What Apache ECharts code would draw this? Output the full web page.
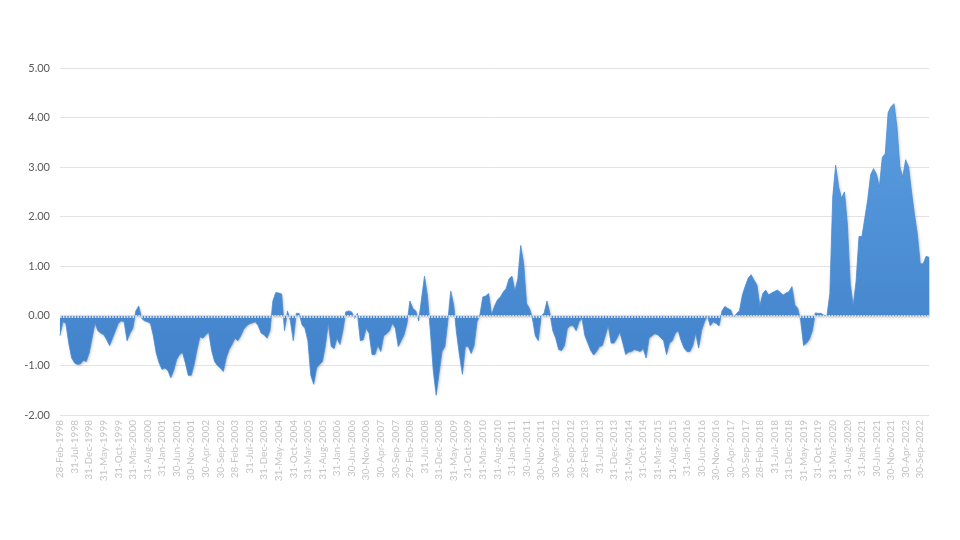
<!DOCTYPE html>
<html>
<head>
<meta charset="utf-8">
<style>
html, body { margin: 0; padding: 0; background: #fff; }
#chart { width: 960px; height: 540px; }
</style>
<script src="https://cdn.jsdelivr.net/npm/echarts@6/dist/echarts.min.js"></script>
</head>
<body>
<div id="chart"></div>
<script>
// monthly values, Feb-1998 .. Dec-2022
var values = [
  -0.40, -0.12, -0.15, -0.55, -0.85, -0.95, -0.98, -0.97, -0.90, -0.92,
  -0.75, -0.45, -0.15, -0.30, -0.35, -0.38, -0.48, -0.60, -0.45, -0.30,
  -0.15, -0.10, -0.12, -0.50, -0.35, -0.25, 0.10, 0.20, -0.05, -0.10,
  -0.12, -0.15, -0.40, -0.75, -0.95, -1.08, -1.05, -1.10, -1.25, -1.10,
  -0.88, -0.78, -0.74, -0.95, -1.20, -1.20, -0.98, -0.68, -0.42, -0.45,
  -0.38, -0.33, -0.70, -0.92, -1.00, -1.05, -1.12, -0.85, -0.68, -0.58,
  -0.45, -0.50, -0.40, -0.27, -0.20, -0.16, -0.14, -0.12, -0.20, -0.35,
  -0.38, -0.45, -0.30, 0.30, 0.47, 0.46, 0.44, -0.30, 0.10, -0.10,
  -0.50, 0.05, 0.05, -0.18, -0.25, -0.50, -1.20, -1.38, -1.05, -0.98,
  -0.92, -0.60, -0.15, -0.62, -0.66, -0.45, -0.58, -0.30, 0.08, 0.10,
  0.08, -0.05, 0.05, -0.50, -0.48, -0.25, -0.35, -0.78, -0.78, -0.60,
  -0.72, -0.40, -0.36, -0.30, -0.15, -0.25, -0.62, -0.50, -0.38, -0.15,
  0.30, 0.15, 0.10, -0.10, 0.35, 0.80, 0.40, -0.30, -1.10, -1.60,
  -1.15, -0.72, -0.62, -0.10, 0.50, 0.22, -0.35, -0.80, -1.18, -0.62,
  -0.62, -0.76, -0.60, -0.12, 0.02, 0.38, 0.40, 0.45, 0.02, 0.20,
  0.32, 0.38, 0.48, 0.55, 0.75, 0.80, 0.50, 0.75, 1.42, 1.05,
  0.25, 0.15, -0.05, -0.40, -0.50, 0.00, 0.05, 0.30, 0.05, -0.30,
  -0.45, -0.68, -0.70, -0.60, -0.25, -0.20, -0.20, -0.30, -0.12, -0.05,
  -0.40, -0.55, -0.70, -0.79, -0.72, -0.62, -0.60, -0.40, -0.20, -0.55,
  -0.55, -0.45, -0.33, -0.55, -0.78, -0.73, -0.72, -0.68, -0.70, -0.72,
  -0.66, -0.85, -0.45, -0.40, -0.36, -0.38, -0.44, -0.50, -0.78, -0.55,
  -0.50, -0.35, -0.30, -0.50, -0.65, -0.72, -0.72, -0.60, -0.35, -0.65,
  -0.30, -0.12, 0.00, -0.20, -0.12, -0.15, -0.20, 0.10, 0.19, 0.15,
  0.12, -0.04, 0.05, 0.10, 0.42, 0.60, 0.76, 0.83, 0.72, 0.62,
  0.20, 0.45, 0.52, 0.42, 0.46, 0.49, 0.52, 0.47, 0.42, 0.46,
  0.49, 0.59, 0.22, 0.15, -0.10, -0.60, -0.55, -0.47, -0.30, 0.06,
  0.05, 0.05, 0.01, 0.00, 0.45, 2.40, 3.04, 2.60, 2.37, 2.50,
  1.85, 0.65, 0.20, 0.70, 1.60, 1.60, 1.97, 2.35, 2.85, 2.97,
  2.85, 2.60, 3.20, 3.27, 4.10, 4.22, 4.28, 3.80, 3.00, 2.80,
  3.15, 3.00, 2.50, 2.05, 1.65, 1.05, 1.05, 1.20, 1.18
];

var monthNames = ['Jan','Feb','Mar','Apr','May','Jun','Jul','Aug','Sep','Oct','Nov','Dec'];
var startYear = 1998, startMonth = 1; // Feb (0-based)

// month-end dates used as category labels
var categories = [];
for (var i = 0; i < values.length; i++) {
    var m = startMonth + i;
    var y = startYear + Math.floor(m / 12);
    var mm = m % 12;
    var lastDay = new Date(Date.UTC(y, mm + 1, 0)).getUTCDate();
    categories.push(lastDay + '-' + monthNames[mm] + '-' + y);
}

var yTicks = { min: -2, max: 5, step: 1 };

var dom = document.getElementById('chart');
var myChart = echarts.init(dom);
var option = {
    backgroundColor: '#ffffff',
    animation: false,
    grid: { left: 60, right: 31, top: 68, bottom: 125 },
    xAxis: {
        type: 'category',
        boundaryGap: false,
        data: categories,
        axisLine: { show: false },
        axisTick: { show: false },
        axisLabel: {
            interval: 4,
            rotate: 90,
            margin: 5,
            color: '#c4c4c4',
            fontFamily: 'Lato',
            fontSize: 10
        }
    },
    yAxis: {
        type: 'value',
        min: yTicks.min,
        max: yTicks.max,
        interval: yTicks.step,
        axisLine: { show: false },
        axisTick: { show: false },
        axisLabel: {
            margin: 10,
            color: '#595959',
            fontFamily: 'Lato',
            fontSize: 11,
            formatter: function (v) { return v.toFixed(2); }
        },
        splitLine: { lineStyle: { color: '#e3e3e3', width: 1 } }
    },
    series: [
        {
            type: 'line',
            data: values,
            showSymbol: false,
            lineStyle: { color: '#4a8dd4', width: 0.8 },
            areaStyle: {
                opacity: 1,
                color: new echarts.graphic.LinearGradient(0, 0, 0, 1, [
                    { offset: 0, color: '#5b9de0' },
                    { offset: 1, color: '#3f80c9' }
                ]),
                shadowColor: 'rgba(0,0,0,0.25)',
                shadowBlur: 3,
                shadowOffsetX: 1,
                shadowOffsetY: 1
            },
            markLine: {
                silent: true,
                symbol: 'none',
                label: { show: false },
                lineStyle: { color: '#dedede', type: [1.6, 1.3], width: 3 },
                data: [{ yAxis: 0 }]
            }
        }
    ]
};
myChart.setOption(option, true);
window.onresize = myChart.resize;
</script>
</body>
</html>
